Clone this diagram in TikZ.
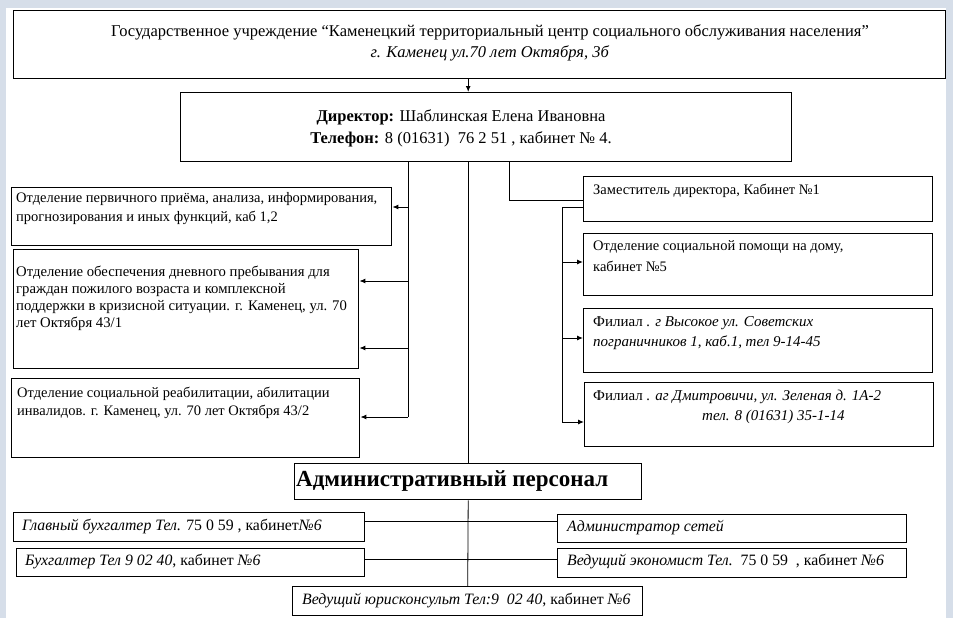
\documentclass[tikz,border=0pt]{standalone}
\usepackage{fontspec}
\setmainfont{Liberation Serif}
\usetikzlibrary{arrows.meta}
\definecolor{framebg}{RGB}{214,222,233}
\tikzset{
  box/.style={draw, line width=1.4pt, anchor=north west, inner sep=0pt},
  txt/.style={inner sep=0pt, anchor=north west, align=left, font=\fontsize{14.5}{18}\selectfont},
  one/.style={inner sep=0pt, anchor=west, font=\fontsize{15.8}{19}\selectfont},
  link/.style={line width=1pt},
  arr/.style={link, -{Latex[length=6pt,width=5pt]}},
}
\begin{document}
\begin{tikzpicture}[x=1pt,y=-1pt]
 % page
 \fill[framebg] (0,0) rectangle (953,618);
 \fill[white] (6,8) rectangle (946,618);
 \useasboundingbox (0,0) rectangle (953,618);

 % boxes
 \node[box, minimum width=932pt, minimum height=68pt] (top) at (13,10) {};
 \node[box, minimum width=611pt, minimum height=69pt] (dir) at (180,92) {};
 \node[box, minimum width=380pt, minimum height=58pt] (l1) at (11,187) {};
 \node[box, minimum width=345pt, minimum height=119pt] (l2) at (13,249) {};
 \node[box, minimum width=348pt, minimum height=79pt] (l3) at (11,378) {};
 \node[box, minimum width=349pt, minimum height=45pt] (dep) at (583,176) {};
 \node[box, minimum width=349pt, minimum height=62pt] (r2) at (583,233) {};
 \node[box, minimum width=349pt, minimum height=64pt] (r3) at (583,308) {};
 \node[box, minimum width=349pt, minimum height=64pt] (r4) at (584,382) {};
 \node[box, minimum width=347pt, minimum height=36pt] (adm) at (294,463) {};
 \node[box, minimum width=351pt, minimum height=29pt] (bl1) at (13,512) {};
 \node[box, minimum width=348pt, minimum height=28pt] (bl2) at (16,548) {};
 \node[box, minimum width=349pt, minimum height=28pt] (br1) at (557,514) {};
 \node[box, minimum width=349pt, minimum height=29pt] (br2) at (557,548) {};
 \node[box, minimum width=350pt, minimum height=29pt] (jur) at (292,586) {};

 % texts
 \node[txt, anchor=north, align=center, font=\fontsize{16.5}{21}\selectfont] (toptext) at (490,24)
   {Государственное учреждение “Каменецкий территориальный центр социального обслуживания населения”\\
    \textit{г. Каменец ул.70 лет Октября, 3б}};
 \node[txt, anchor=north, align=center, font=\fontsize{16.5}{22}\selectfont] (dirtext) at (461,109)
   {\textbf{Директор:} Шаблинская Елена Ивановна\\
    \textbf{Телефон:} 8 (01631)~~76 2 51 , кабинет № 4.};
 \node[txt, font=\fontsize{14.5}{19}\selectfont] (l1text) at (16,192)
   {Отделение первичного приёма, анализа, информирования,\\
    прогнозирования и иных функций, каб 1,2};
 \node[txt, font=\fontsize{14.7}{17}\selectfont] (l2text) at (16,266)
   {Отделение обеспечения дневного пребывания для\\
    граждан пожилого возраста и комплексной\\
    поддержки в кризисной ситуации. г. Каменец, ул. 70\\
    лет Октября 43/1};
 \node[txt] (l3text) at (17,387)
   {Отделение социальной реабилитации, абилитации\\
    инвалидов. г. Каменец, ул. 70 лет Октября 43/2};
 \node[txt] (deptext) at (593,184) {Заместитель директора, Кабинет №1};
 \node[txt, font=\fontsize{14.5}{21}\selectfont] (r2text) at (593,240)
   {Отделение социальной помощи на дому,\\
    кабинет №5};
 \node[txt, font=\fontsize{15}{20}\selectfont] (r3text) at (593,316)
   {Филиал \textit{. г Высокое ул. Советских}\\
    \textit{пограничников 1, каб.1, тел 9-14-45}};
 \node[txt, font=\fontsize{15}{20}\selectfont] (r4text) at (593,390)
   {Филиал \textit{. аг Дмитровичи, ул. Зеленая д. 1А-2}\\
    \hspace*{109pt}\textit{тел. 8 (01631) 35-1-14}};
 \node[one, font=\fontsize{23}{27}\bfseries] (admtext) at (296,481) {Административный персонал};
 \node[one] (bl1text) at (22,527) {\textit{Главный бухгалтер Тел.} 75 0 59 , кабинет\textit{№6}};
 \node[one] (bl2text) at (25,562) {\textit{Бухгалтер Тел 9 02 40}, кабинет \textit{№6}};
 \node[one] (br1text) at (567,528) {\textit{Администратор сетей}};
 \node[one] (br2text) at (567,562) {\textit{Ведущий экономист Тел.}~~75 0 59~~, кабинет \textit{№6}};
 \node[one] (jurtext) at (302,601) {\textit{Ведущий юрисконсульт Тел:9~~02 40}, кабинет \textit{№6}};

 % connectors
 \draw[arr] (top.south -| adm.north) -- (dir.north -| adm.north);
 \draw[link] (dir.south -| adm.north) -- (adm.north);

 \coordinate (lbus) at (408,417);
 \draw[link] (dir.south -| lbus) -- (lbus);
 \foreach \y/\b in {207/l1, 281/l2, 348/l2, 417/l3}
   \draw[arr] (lbus |- 0,\y) -- (\b.east |- 0,\y);

 \coordinate (rturn) at (509,200);
 \draw[link] (dir.south -| rturn) -- (rturn) -- (rturn -| dep.west);
 \coordinate (rbus) at (562,207);
 \draw[link] (rbus -| dep.west) -- (rbus) -- (rbus |- 0,422);
 \foreach \y/\b in {262/r2, 338/r3, 422/r4}
   \draw[arr] (rbus |- 0,\y) -- (\b.west |- 0,\y);

 \draw[link, line width=0.8pt] (adm.south) -- (jur.north);
 \coordinate (h1) at (467,521);
 \coordinate (h2) at (467,559);
 \draw[link] (h1 -| bl1.east) -- (h1 -| br1.west);
 \draw[link] (h2 -| bl2.east) -- (h2 -| br2.west);
\end{tikzpicture}
\end{document}
